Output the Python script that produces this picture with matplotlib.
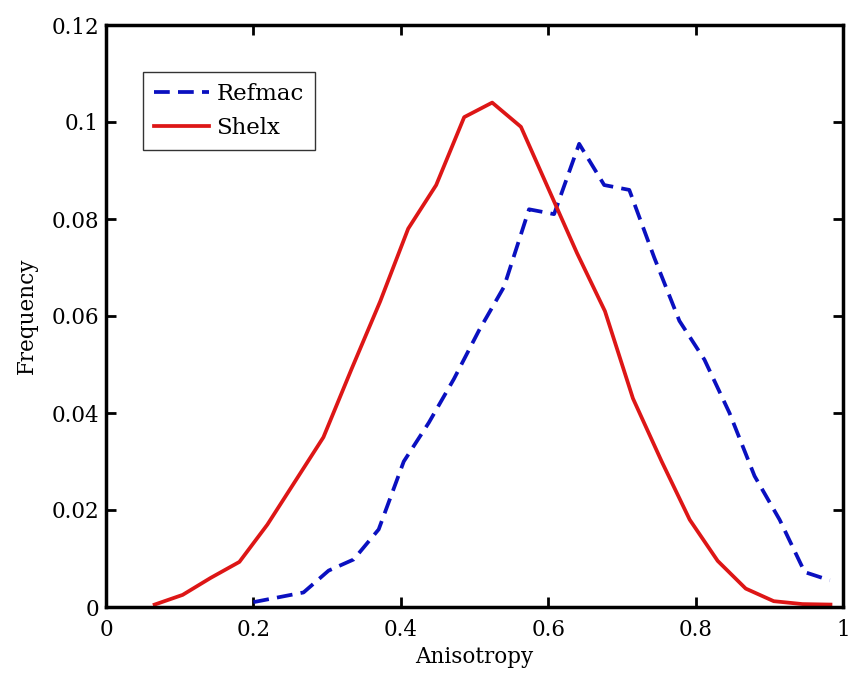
import matplotlib
matplotlib.use("Agg")
import matplotlib.pyplot as plt
import numpy as np

# Shelx (red, solid)
shelx_x = [0.066, 0.104, 0.142, 0.181, 0.219, 0.257, 0.295, 0.333, 0.372, 0.410,
           0.448, 0.486, 0.524, 0.563, 0.601, 0.639, 0.677, 0.715, 0.754, 0.792,
           0.830, 0.868, 0.906, 0.945, 0.983]
shelx_y = [0.0005, 0.0025, 0.006, 0.0093, 0.017, 0.026, 0.035, 0.049, 0.063, 0.078,
           0.087, 0.101, 0.104, 0.099, 0.086, 0.073, 0.061, 0.043, 0.030, 0.018,
           0.0095, 0.0038, 0.0012, 0.0006, 0.0005]

# Refmac (blue, dashed)
refmac_x = [0.200, 0.234, 0.268, 0.302, 0.336, 0.370, 0.404, 0.438, 0.472, 0.506,
            0.540, 0.574, 0.608, 0.642, 0.676, 0.710, 0.744, 0.778, 0.812, 0.846,
            0.880, 0.914, 0.948, 0.982]
refmac_y = [0.001, 0.002, 0.003, 0.0075, 0.0098, 0.016, 0.030, 0.038, 0.047, 0.057,
            0.066, 0.082, 0.081, 0.0955, 0.087, 0.086, 0.072, 0.059, 0.051, 0.040,
            0.027, 0.018, 0.0072, 0.0055]

x_ticks = [0, 0.2, 0.4, 0.6, 0.8, 1]
x_ticklabels = ["0", "0.2", "0.4", "0.6", "0.8", "1"]
y_ticks = [0, 0.02, 0.04, 0.06, 0.08, 0.1, 0.12]
y_ticklabels = ["0", "0.02", "0.04", "0.06", "0.08", "0.1", "0.12"]

plt.rcParams['font.family'] = ['DejaVu Serif']
fs = 15.5

fig = plt.figure(figsize=(8.5, 6.77), dpi=100)
ax = fig.add_axes([106/850, 1-607/677, (843-106)/850, (607-25)/677])

ax.plot(refmac_x, refmac_y, color='#0a10c0', lw=2.7, dashes=(4.2, 2.2), label='Refmac')
ax.plot(shelx_x, shelx_y, color='#dd1616', lw=2.7, label='Shelx')

ax.set_xlim(0, 1)
ax.set_ylim(0, 0.12)
ax.set_xticks(x_ticks)
ax.set_xticklabels(x_ticklabels)
ax.set_yticks(y_ticks)
ax.set_yticklabels(y_ticklabels)
ax.tick_params(direction='in', length=7, width=2, top=True, right=True,
               labelsize=fs, colors='black')
ax.tick_params(axis='x', pad=9)
ax.tick_params(axis='y', pad=5)
for s in ax.spines.values():
    s.set_linewidth(2.5)
    s.set_color('black')

ax.set_xlabel('Anisotropy', fontsize=fs, labelpad=3)
ax.set_ylabel('Frequency', fontsize=fs, labelpad=10)

leg = ax.legend(loc='upper left', bbox_to_anchor=((143-106)/737, (607-72)/582),
                fontsize=16.5, frameon=True, fancybox=False, handlelength=2.4,
                handletextpad=0.3, borderpad=0.5, labelspacing=0.5,
                borderaxespad=0)
leg.get_frame().set_edgecolor('black')
leg.get_frame().set_linewidth(1.0)

fig.savefig('out.png', dpi=100)
